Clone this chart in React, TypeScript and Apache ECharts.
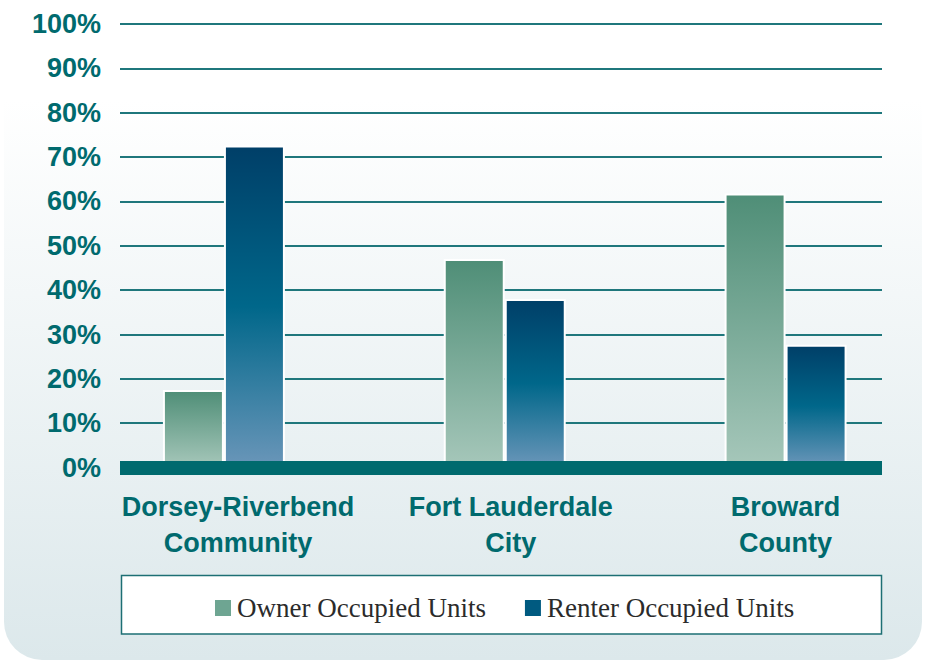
import React, { useEffect, useRef } from "react";
import * as echarts from "echarts";

const categories = ["Dorsey-Riverbend\nCommunity", "Fort Lauderdale\nCity", "Broward\nCounty"];
const seriesNames = ["Owner Occupied Units", "Renter Occupied Units"];
const ownerValues = [17.5, 47.0, 61.8];
const renterValues = [72.6, 38.0, 27.7];
const labelShift = [28, 12, 0];

const TEAL = "#006a6e";

export default function App() {
  const ref = useRef<HTMLDivElement>(null);
  useEffect(() => {
    if (!ref.current) return;
    const chart = echarts.init(ref.current, null, { renderer: "svg" });
    const gridTop = 24;
    const gridHeight = 443.6;
    const ownerGrad = new echarts.graphic.LinearGradient(0, 0, 0, 1, [
      { offset: 0, color: "#4f8e77" },
      { offset: 1, color: "#a6c7ba" },
    ]);
    const renterGrad = new echarts.graphic.LinearGradient(0, 0, 0, 1, [
      { offset: 0, color: "#003f68" },
      { offset: 0.5, color: "#00678a" },
      { offset: 1, color: "#6a96b9" },
    ]);
    chart.setOption({
      animation: false,
      graphic: [
        {
          type: "rect",
          z: -100,
          silent: true,
          shape: { x: 4, y: -40, width: 918, height: 700, r: 38 },
          style: {
            fill: new echarts.graphic.LinearGradient(0, 0, 0, 1, [
              { offset: 0, color: "#ffffff" },
              { offset: 0.2, color: "#ffffff" },
              { offset: 1, color: "#dce8eb" },
            ]),
          },
        },
        {
          type: "rect",
          z: -50,
          silent: true,
          shape: { x: 121.5, y: 575.5, width: 760, height: 58.5 },
          style: { fill: "#ffffff", stroke: "#1d6f74", lineWidth: 1.5 },
        },
      ],
      grid: [
        { left: 120, top: gridTop, width: 762, height: gridHeight },
        { left: 83.5, top: gridTop, width: 843, height: gridHeight },
      ],
      xAxis: [
        {
          type: "category",
          gridIndex: 0,
          data: categories,
          z: 10,
          axisLine: { show: true, lineStyle: { color: TEAL, width: 14, cap: "butt" } },
          axisTick: { show: false },
          axisLabel: { show: false },
          splitLine: { show: false },
        },
        {
          type: "category",
          gridIndex: 1,
          data: categories.map((c, i) => ({
            value: c,
            textStyle: { padding: [0, 0, 0, labelShift[i]] },
          })),
          axisLine: { show: false },
          axisTick: { show: false },
          axisLabel: {
            color: TEAL,
            fontFamily: "'Liberation Sans', Arial, sans-serif",
            fontWeight: "bold",
            fontSize: 27,
            lineHeight: 36,
            margin: 21,
            interval: 0,
          },
        },
      ],
      yAxis: [
        {
          type: "value",
          gridIndex: 0,
          min: 0,
          max: 100,
          interval: 10,
          axisLine: { show: false },
          axisTick: { show: false },
          axisLabel: {
            formatter: "{value}%",
            color: TEAL,
            fontFamily: "'Liberation Sans', Arial, sans-serif",
            fontWeight: "bold",
            fontSize: 27,
            margin: 19,
          },
          splitLine: { show: true, lineStyle: { color: "#1f777c", width: 2 } },
        },
        {
          type: "value",
          gridIndex: 1,
          min: 0,
          max: 100,
          interval: 10,
          show: false,
          splitLine: { show: false },
        },
      ],
      legend: {
        left: 213,
        top: 593,
        padding: 0,
        itemWidth: 18,
        itemHeight: 18,
        itemGap: 37,
        icon: "rect",
        textStyle: {
          fontFamily: "'Liberation Serif', 'Times New Roman', serif",
          fontSize: 27,
          color: "#2b2b2b",
          lineHeight: 30,
        },
        data: [
          { name: seriesNames[0], itemStyle: { color: "#6ea592" } },
          { name: seriesNames[1], itemStyle: { color: "#005a80" } },
        ],
      },
      series: [
        {
          name: seriesNames[0],
          type: "bar",
          xAxisIndex: 1,
          yAxisIndex: 1,
          data: ownerValues,
          barWidth: 61,
          barGap: "0%",
          itemStyle: { color: ownerGrad, borderColor: "#ffffff", borderWidth: 2 },
        },
        {
          name: seriesNames[1],
          type: "bar",
          xAxisIndex: 1,
          yAxisIndex: 1,
          data: renterValues,
          barWidth: 61,
          barGap: "0%",
          itemStyle: { color: renterGrad, borderColor: "#ffffff", borderWidth: 2 },
        },
      ],
    });
    return () => chart.dispose();
  }, []);
  return (
    <div
      ref={ref}
      style={{ position: "absolute", left: 0, top: 0, width: 926, height: 660 }}
    />
  );
}
